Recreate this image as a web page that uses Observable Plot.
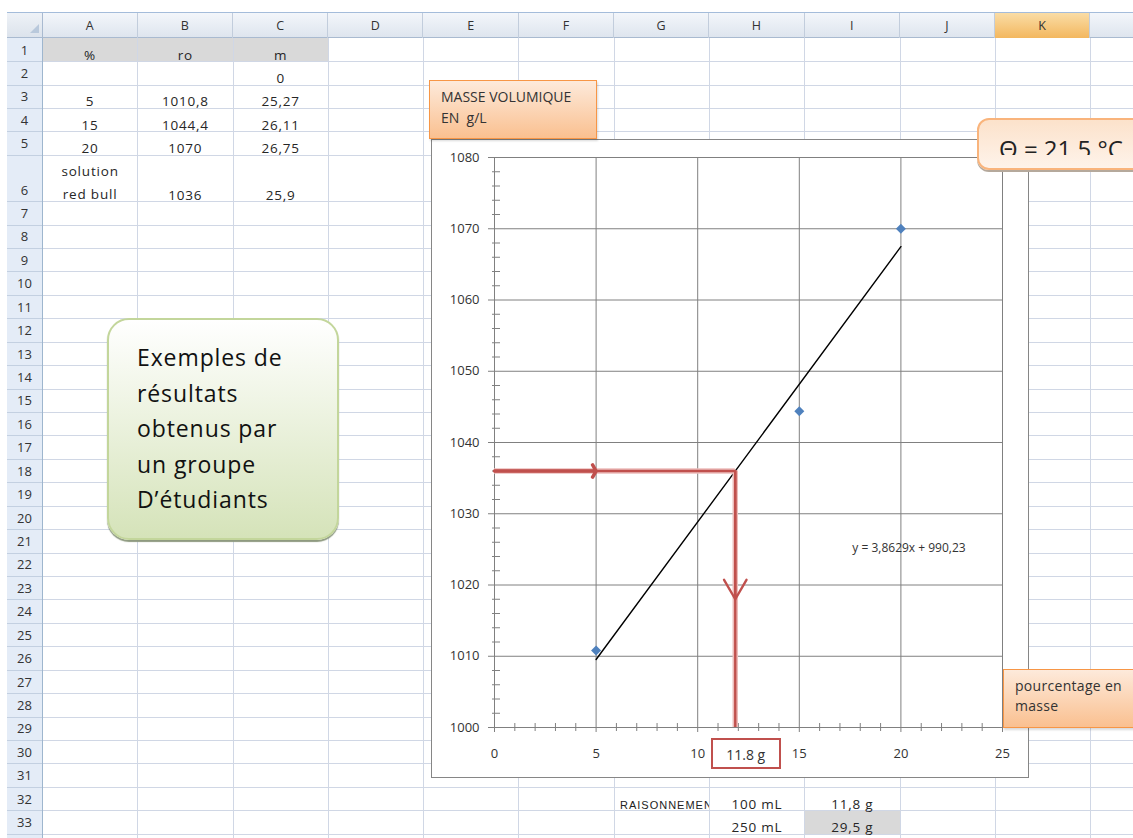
<!DOCTYPE html>
<html><head><meta charset="utf-8">
<script src="https://cdn.jsdelivr.net/npm/d3@7"></script>
<script src="https://cdn.jsdelivr.net/npm/@observablehq/plot@0.6"></script>
<style>
html,body{margin:0;padding:0;}
body{width:1133px;height:838px;overflow:hidden;background:#fff;font-family:"Open Sans",sans-serif;position:relative;color:#333;}
.a{position:absolute;box-sizing:border-box;}
.cell{position:absolute;font-size:13.5px;letter-spacing:0.8px;line-height:18px;white-space:nowrap;overflow:hidden;color:#262626;}
.hl{position:absolute;height:1px;background:#D0D7E5;}
.vl{position:absolute;width:1px;background:#D0D7E5;}
</style></head><body>
<div id="sheet"></div>
<div id="chart" class="a" style="left:431px;top:139px;width:598px;height:639px;border:1px solid #868686;background:#fff;"></div>
<div id="over"></div>
<script>
// ---------- data ----------
const headers = ["%", "ro", "m"];
const pct = [5, 15, 20];
const ro = [1010.8, 1044.4, 1070];
const mass = [25.27, 26.11, 26.75];
const mass0 = 0;
const sampleName = ["solution", "red bull"];
const sampleRo = 1036;
const sampleM = 25.9;
const reasoningLabel = "RAISONNEMENT";
const volumes = ["100 mL", "250 mL"];
const foundMass = [11.8, 29.5];
const temperature = "Θ = 21.5 °C";
const xTicks = [0, 5, 10, 15, 20, 25];
const yTicks = [1000, 1010, 1020, 1030, 1040, 1050, 1060, 1070, 1080];
const xMinor = [1,2,3,4,6,7,8,9,11,12,13,14,16,17,18,19,21,22,23,24];
const yMinor = [1002,1004,1006,1008,1012,1014,1016,1018,1022,1024,1026,1028,1032,1034,1036,1038,1042,1044,1046,1048,1052,1054,1056,1058,1062,1064,1066,1068,1072,1074,1076,1078];

const fr = v => String(v).replace(".", ",");

// ---------- spreadsheet ----------
const sheet = document.getElementById("sheet");
function el(html){ const d=document.createElement("div"); d.innerHTML=html; const e=d.firstChild; sheet.appendChild(e); return e; }
const colX = [42.5,137.7,233,328.3,423.5,518.8,614,709.3,804.6,900,995,1090.3,1185.6];
const colLetters = ["A","B","C","D","E","F","G","H","I","J","K",""];
const rowB = [38.3];
for (let r=1;r<=34;r++){ const h = r<=5?23.35:(r===6?46.55:23.43); rowB.push(rowB[r-1]+h); }

// fills
el(`<div class="a" style="left:${colX[0]}px;top:${rowB[0]}px;width:${colX[3]-colX[0]}px;height:${rowB[1]-rowB[0]}px;background:#D9D9D9"></div>`);
el(`<div class="a" style="left:${colX[8]}px;top:${rowB[32]}px;width:${colX[9]-colX[8]}px;height:${rowB[33]-rowB[32]}px;background:#D9D9D9"></div>`);
// grid lines
for (let r=1;r<rowB.length;r++) el(`<div class="hl" style="left:42px;top:${rowB[r]-0.5}px;width:1100px"></div>`);
for (let c=1;c<colX.length;c++) el(`<div class="vl" style="left:${colX[c]-0.5}px;top:38px;height:800px"></div>`);
// top band & headers
el(`<div class="a" style="left:0;top:0;width:1133px;height:13px;background:#fff"></div>`);
el(`<div class="a" style="left:7px;top:11.5px;width:1126px;height:2px;background:#A4BCDA"></div>`);
el(`<div class="a" style="left:7px;top:13px;width:1126px;height:25.3px;background:linear-gradient(#F3F6FA,#DEE5EE);border-bottom:1px solid #A9BAD0"></div>`);
for (let c=0;c<colLetters.length;c++){
  const sel = colLetters[c]==="K";
  el(`<div class="a" style="left:${colX[c]}px;top:13px;width:${colX[c+1]-colX[c]}px;height:25.3px;${sel?'background:linear-gradient(#FADDA6,#F3B75F);':''}border-right:1px solid #C2CDDC;text-align:center;font-size:12.5px;line-height:25px;color:#333">${colLetters[c]}</div>`);
}
el(`<div class="a" style="left:7px;top:13px;width:35.5px;height:25.3px;background:linear-gradient(#EEF2F7,#DCE3EC);border-right:1px solid #A9BAD0;border-bottom:1px solid #A9BAD0"></div>`);
el(`<div class="a" style="left:30px;top:24px;width:0;height:0;border-left:9px solid transparent;border-bottom:9px solid #B9C9DC"></div>`);
el(`<div class="a" style="left:7px;top:${rowB[0]}px;width:35.5px;height:${838-rowB[0]}px;background:#E4ECF7;border-right:1px solid #9EB6CE"></div>`);
for (let r=1;r<rowB.length;r++){
  el(`<div class="a" style="left:7px;top:${rowB[r]-0.5}px;width:35px;height:1px;background:#C3D0E1"></div>`);
  if (r <= 33) el(`<div class="a" style="left:7px;top:${rowB[r]-21}px;width:35px;height:18px;text-align:center;font-size:13px;line-height:18px;color:#333">${r}</div>`);
}
function cell(c, r, text, align="center", extra=""){
  const x0=colX[c], x1=colX[c+1];
  el(`<div class="cell" style="left:${x0}px;top:${rowB[r]-16}px;width:${x1-x0}px;text-align:${align};${extra}">${text}</div>`);
}
headers.forEach((h,i)=>cell(i,1,h));
cell(2,2,fr(mass0));
pct.forEach((p,i)=>{ cell(0,3+i,fr(p)); cell(1,3+i,fr(ro[i])); cell(2,3+i,fr(mass[i])); });
el(`<div class="cell" style="left:${colX[0]}px;top:159.5px;width:${colX[1]-colX[0]}px;text-align:center;line-height:23px">${sampleName[0]}<br>${sampleName[1]}</div>`);
cell(1,6,fr(sampleRo)); cell(2,6,fr(sampleM));
el(`<div class="cell" style="left:${colX[6]+6}px;top:${rowB[32]-15}px;width:${colX[7]-colX[6]-6}px;font-family:'Liberation Sans',Arial,sans-serif;font-size:11px;letter-spacing:1px;color:#222">${reasoningLabel}</div>`);
volumes.forEach((v,i)=>{ cell(7,32+i,v); cell(8,32+i,fr(foundMass[i])+" g"); });

// ---------- chart ----------
const pts = pct.map((p,i)=>({p, r: ro[i]}));
const mx = d3.mean(pct), my = d3.mean(ro);
const slope = d3.sum(pts, d=>(d.p-mx)*(d.r-my)) / d3.sum(pts, d=>(d.p-mx)**2);
const intercept = my - slope*mx;
const xHit = (sampleRo - intercept)/slope;
const xDom = [0, 25], yDom = [1000, 1080];
const red = "#C0504D", halo = "#ECBDBB", grid = "#808080";
const hLine = [{x1: xDom[0], x2: xHit, y: sampleRo}];
const vLine = [{x: xHit, y1: yDom[0], y2: sampleRo}];
const vArrow = [{x: xHit, y1: sampleRo, y2: (sampleRo + yDom[0])/2}];
const hArrow = [{y: sampleRo, x1: xDom[0], x2: pct[0]}];

const plot = Plot.plot({
  width: 596, height: 637,
  marginLeft: 62, marginTop: 17, marginRight: 26, marginBottom: 50,
  style: {fontFamily: "Open Sans, sans-serif", fontSize: "13px", color: "#333", background: "white", overflow: "visible"},
  x: {domain: xDom, axis: null},
  y: {domain: yDom, axis: null},
  marks: [
    Plot.gridX({ticks: xTicks, stroke: grid, strokeOpacity: 1}),
    Plot.gridY({ticks: yTicks, stroke: grid, strokeOpacity: 1}),
    Plot.axisY({ticks: yMinor, tickSize: 8, dx: 6, tickFormat: () => "", stroke: grid, label: null}),
    Plot.axisY({ticks: yTicks, tickSize: 6, tickPadding: 9, tickFormat: d => String(d), stroke: grid, fill: "#333", label: null}),
    Plot.axisX({ticks: xMinor, tickSize: 8, dy: -4, tickFormat: () => "", stroke: grid, label: null}),
    Plot.axisX({ticks: xTicks, tickSize: 5, tickPadding: 16, tickFormat: d => String(d), stroke: grid, fill: "#333", label: null}),
    Plot.ruleX([xDom[0]], {stroke: grid}),
    Plot.ruleY([yDom[0]], {stroke: grid}),
    Plot.linearRegressionY(pts, {x: "p", y: "r", stroke: "black", strokeWidth: 1.4, ci: 0}),
    Plot.ruleY(hLine, {y: "y", x1: "x1", x2: "x2", stroke: halo, strokeWidth: 5.5}),
    Plot.ruleX(vLine, {x: "x", y1: "y1", y2: "y2", stroke: halo, strokeWidth: 5.5}),
    Plot.ruleY(hLine, {y: "y", x1: "x1", x2: "x2", stroke: red, strokeWidth: 2.4}),
    Plot.ruleX(vLine, {x: "x", y1: "y1", y2: "y2", stroke: red, strokeWidth: 2.4}),
    Plot.arrow(vArrow, {x1: "x", x2: "x", y1: "y1", y2: "y2", stroke: red, strokeWidth: 2.4, headLength: 14, headAngle: 60}),
    Plot.arrow(hArrow, {x1: "x1", x2: "x2", y1: "y", y2: "y", stroke: red, strokeWidth: 3.5, headLength: 3, headAngle: 120}),
    Plot.dot(pts, {x: "p", y: "r", symbol: "square", r: 4, rotate: 45, fill: "#4F81BD"})
  ]
});
document.getElementById("chart").appendChild(plot);

// ---------- overlays ----------
const over = document.getElementById("over");
function ov(html){ const d=document.createElement("div"); d.innerHTML=html; over.appendChild(d.firstChild); }
ov(`<div class="a" style="left:809px;top:541.4px;width:200px;text-align:center;font-size:12px;line-height:14px;color:#333">y = ${fr(slope.toFixed(4))}x + ${fr(intercept.toFixed(2))}</div>`);
ov(`<div class="a" style="left:710.7px;top:737.7px;width:70px;height:31.6px;border:2px solid ${red};background:#fff;text-align:center;font-size:14px;line-height:27px;padding-top:1px;color:#333">${xHit.toFixed(1)} g</div>`);
ov(`<div class="a" style="left:429px;top:80px;width:168px;height:59px;border:1px solid #F79646;background:linear-gradient(#FDEADB,#FAC090);box-shadow:1px 2px 2px rgba(0,0,0,0.15);padding:6px 0 0 11px;font-size:14px;line-height:20.6px;color:#333;white-space:nowrap">MASSE VOLUMIQUE<br>EN&nbsp;&nbsp;<u>g</u>/L</div>`);
ov(`<div class="a" style="left:1003px;top:669px;width:150px;height:59px;border:1px solid #F79646;background:linear-gradient(#FDEADB,#FAC090);box-shadow:1px 2px 2px rgba(0,0,0,0.15);padding:6.3px 0 0 11px;font-size:14px;line-height:20px;letter-spacing:0.3px;color:#333;white-space:nowrap">pourcentage en<br>masse</div>`);
ov(`<div class="a" style="left:977px;top:118px;width:180px;height:52px;border:2px solid #F9B47C;border-radius:12px;background:linear-gradient(#FCE2CB,#FEF3EA);box-shadow:0 2px 0 #B5A99C;"><div style="position:absolute;left:20px;top:0;height:35px;overflow:hidden;padding-top:17px;box-sizing:border-box;font-size:24px;line-height:24px;color:#222;white-space:nowrap">${temperature}</div></div>`);
ov(`<div class="a" style="left:107px;top:318px;width:232px;height:222px;border:2px solid #C3D69B;border-radius:22px;background:linear-gradient(#FFFFFF,#D5E3B9);box-shadow:0 2px 1px #8E9A80;padding:20px 0 0 28px;font-size:23px;line-height:35.5px;letter-spacing:0.9px;color:#111;white-space:nowrap">Exemples de<br>résultats<br>obtenus par<br>un groupe<br>D’étudiants</div>`);
</script>
</body></html>
